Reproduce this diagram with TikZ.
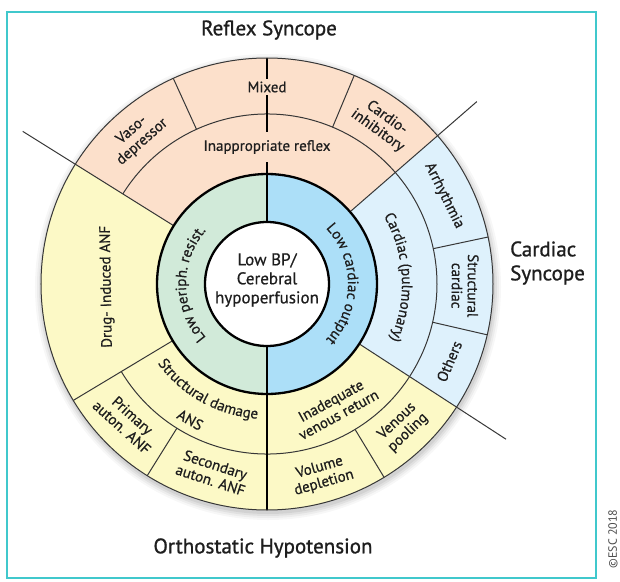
\documentclass[tikz,border=0pt]{standalone}
\usepackage{fontspec}
\setmainfont{PT Sans}
\newfontfamily\labfont[FakeBold=0.6]{PT Sans}
\newfontfamily\headfont[FakeBold=1.0]{PT Sans}
\usetikzlibrary{decorations.text}
\definecolor{peach}{RGB}{252,224,203}
\definecolor{lyellow}{RGB}{252,249,198}
\definecolor{lblue}{RGB}{222,241,252}
\definecolor{lgreen}{RGB}{209,234,217}
\definecolor{mblue}{RGB}{172,223,248}
\definecolor{framecol}{RGB}{64,200,204}
\definecolor{linegray}{RGB}{55,55,55}
\definecolor{txt}{RGB}{30,30,30}
\newcommand\ringfnt{\labfont\fontsize{15}{16}\selectfont}
\begin{document}
\begin{tikzpicture}[x=1pt,y=1pt,
  thinline/.style={draw=linegray, line width=1pt},
  vline/.style={draw=black, line width=1.6pt},
  outerline/.style={draw=linegray, line width=1pt},
  ringline/.style={draw=black, line width=2.3pt},
  lab/.style={font=\ringfnt, text=txt, align=center, inner sep=1pt},
  head/.style={font=\headfont\fontsize{21}{24}\selectfont, text=txt, align=left, inner sep=0pt},
  curved/.style={decorate, decoration={text along path, text align=center, text color=txt, text={|\ringfnt|#1}}}
]
\useasboundingbox (-267,-297) rectangle (353,284);
\fill[white] (-267,-297) rectangle (353,284);
\draw[framecol, line width=2.5pt] (-260,-294) rectangle (329,272);
% soft shadow
\foreach \i/\o in {7/0.03,5/0.04,3/0.05,1/0.06}{\fill[black,opacity=\o] (1,-3) circle ({226+\i});}
% sectors
\fill[peach] (148:226) arc[start angle=148,end angle=41,radius=226] -- (41:110) arc[start angle=41,end angle=148,radius=110] -- cycle;
\fill[lblue] (41:226) arc[start angle=41,end angle=-33,radius=226] -- (-33:110) arc[start angle=-33,end angle=41,radius=110] -- cycle;
\fill[lyellow] (-33:226) arc[start angle=-33,end angle=-212,radius=226] -- (-212:110) arc[start angle=-212,end angle=-33,radius=110] -- cycle;
\fill[lgreen] (90:110) arc[start angle=90,end angle=270,radius=110] -- (270:62) arc[start angle=270,end angle=90,radius=62] -- cycle;
\fill[mblue] (90:110) arc[start angle=90,end angle=-90,radius=110] -- (-90:62) arc[start angle=-90,end angle=90,radius=62] -- cycle;
\fill[white] (0,0) circle (62);
% division lines
\draw[thinline] (148:170) arc[start angle=148,end angle=-33,radius=170];
\draw[thinline] (211:170) arc[start angle=211,end angle=327,radius=170];
\foreach \a in {114.5,67.3,12,-13,-58.8,238} \draw[thinline] (\a:170) -- (\a:226);
\draw[thinline] (211:110) -- (211:226);
\draw[thinline] (148:110) -- (148:288);
\draw[thinline] (41:110) -- (41:278);
\draw[thinline] (-33:110) -- (-33:285);
\draw[vline] (0,62) -- (0,226);
\draw[vline] (0,-62) -- (0,-226);
\draw[outerline] (0,0) circle (226);
\draw[ringline] (0,0) circle (110);
\draw[ringline] (0,0) circle (62);
% centre
\node[font=\labfont\fontsize{17}{19}\selectfont, text=txt, align=center, inner sep=0pt] (centre) at (0,4) {Low BP/\\Cerebral\\hypoperfusion};
% curved labels
\path[curved={Low cardiac output}] (64:81) arc[start angle=64,end angle=-64,radius=81];
\path[curved={Low periph. resist.}] (244:81) arc[start angle=244,end angle=116,radius=81];
\path[curved={Cardiac (pulmonary)}] (39:135) arc[start angle=39,end angle=-33,radius=135];
\path[curved={Structural damage}] (209:135) arc[start angle=209,end angle=273,radius=135];
% reflex
\node[lab, fill=peach, inner ysep=3pt] (mixed) at (0,197) {Mixed};
\node[lab, fill=peach, inner ysep=8pt] (inapp) at (0,137) {Inappropriate reflex};
\node[lab, rotate=41.3] (vaso) at (131.3:197) {Vaso-\\depressor};
\node[lab, rotate=-35.8] (cardio) at (54.2:197) {Cardio-\\inhibitory};
% cardiac
\node[lab, rotate=-63.5] (arr) at (26.5:198) {Arrhythmia};
\node[lab, rotate=-90.5] (struc) at (-0.5:198) {Structural\\cardiac};
\node[lab, rotate=67] (others) at (-23:198) {Others};
% orthostatic
\node[lab, rotate=91] (drug) at (181:160) {Drug- Induced ANF};
\node[lab, rotate=330.5] (ans) at (240.5:156) {ANS};
\node[lab, rotate=-42] (prim) at (224.5:196) {Primary\\auton. ANF};
\node[lab, rotate=-18] (sec) at (254:196) {Secondary\\auton. ANF};
\node[lab, rotate=28.7] (inadeq) at (298.7:141) {Inadequate\\venous return};
\node[lab, rotate=43.5] (venous) at (-46.5:197) {Venous\\pooling};
\node[lab, rotate=16] (volume) at (-74:199) {Volume\\depletion};
% headings
\node[head, anchor=center] (reflex) at (2,254) {Reflex Syncope};
\node[head, anchor=center] (ortho) at (-4,-264) {Orthostatic Hypotension};
\node[head, anchor=west] (cardiac) at (243,21) {Cardiac\\Syncope};
\node[font=\fontsize{12}{13}\selectfont, text=black!70, rotate=90, inner sep=0pt] (esc) at (346,-255) {\textcopyright ESC 2018};
\end{tikzpicture}
\end{document}
